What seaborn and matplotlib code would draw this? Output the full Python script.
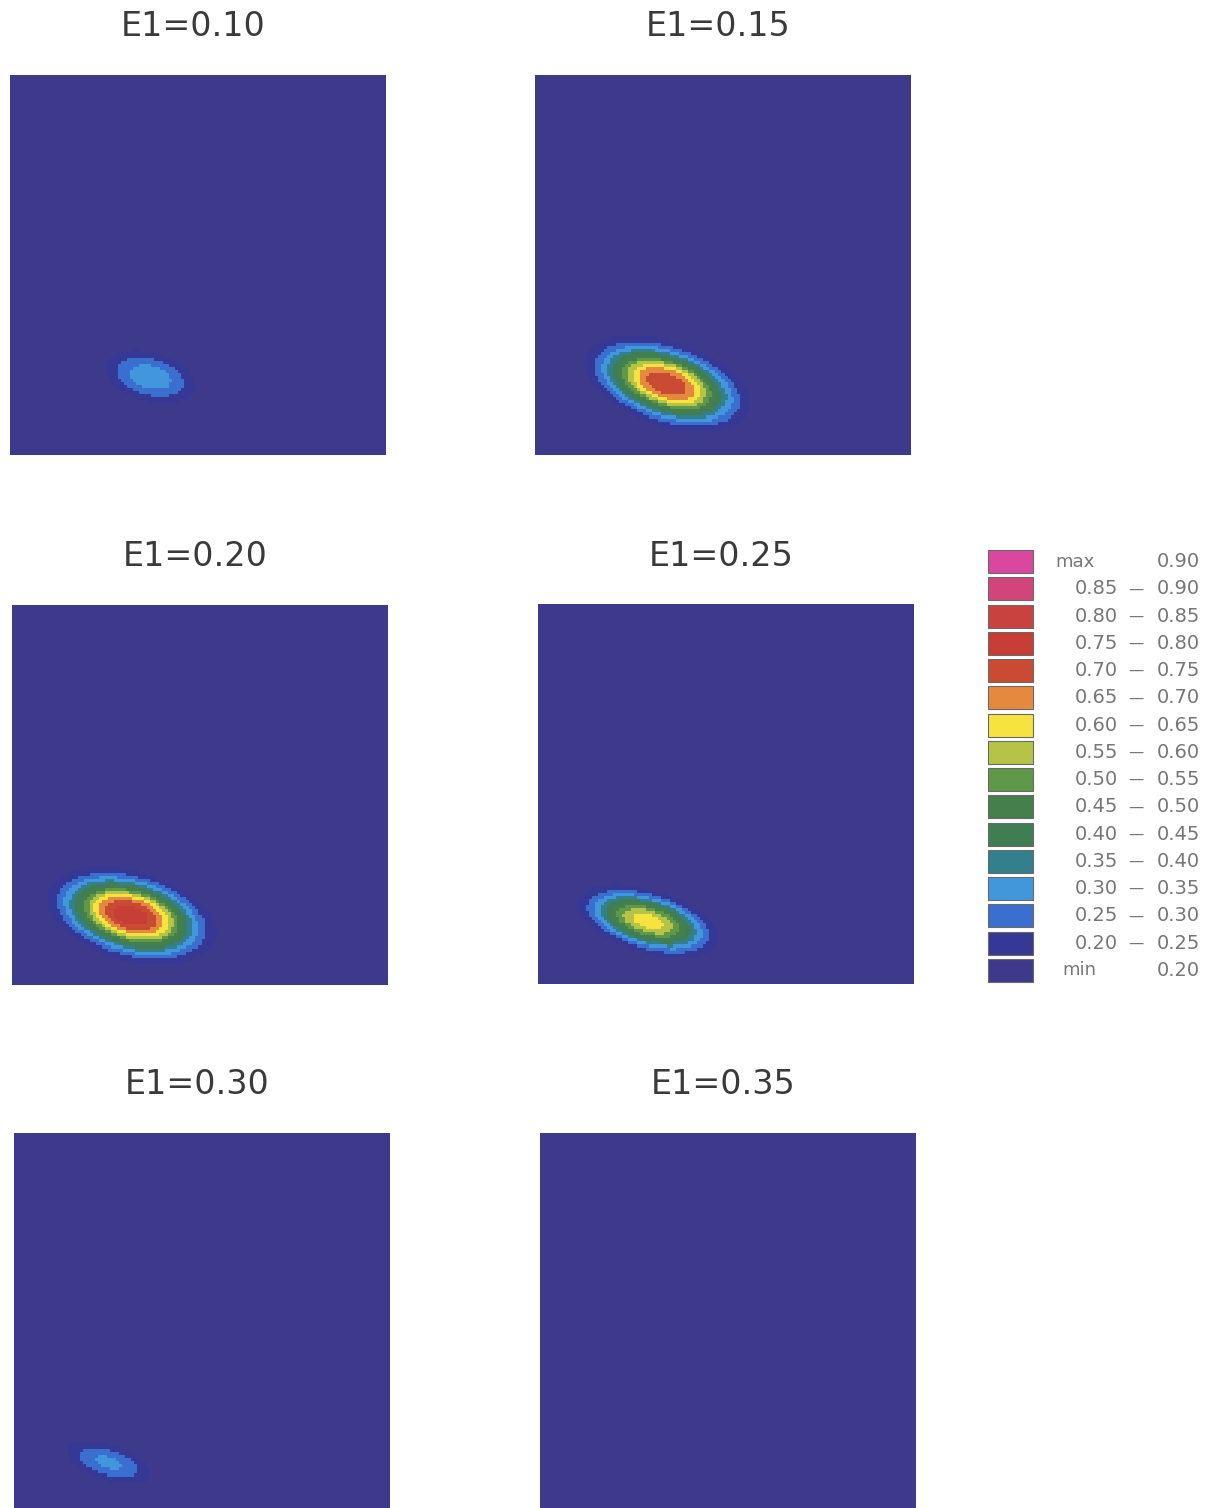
import numpy as np
import matplotlib
matplotlib.use("Agg")
import matplotlib.pyplot as plt
from matplotlib.colors import ListedColormap, BoundaryNorm
import seaborn as sns

# panel titles and blob parameters (panel fraction units)
titles = ["E1=0.10", "E1=0.15", "E1=0.20", "E1=0.25", "E1=0.30", "E1=0.35"]
peak_val = [0.33, 0.74, 0.78, 0.62, 0.31, 0.18]
center_x = [0.373, 0.350, 0.316, 0.292, 0.250, 0.500]
center_y = [0.203, 0.185, 0.180, 0.162, 0.129, 0.500]
spread_major = [0.112, 0.160, 0.160, 0.142, 0.110, 0.100]
spread_minor = [0.060, 0.078, 0.082, 0.060, 0.044, 0.100]
tilt_deg = [-15, -18, -15, -16, -17, 0]
base_val = 0.15
shape_k = 2.5

# contour levels and legend
bounds = [0.0, 0.20, 0.25, 0.30, 0.35, 0.40, 0.45, 0.50, 0.55, 0.60,
          0.65, 0.70, 0.75, 0.80, 0.85, 0.90, 1.0]
level_colors = ["#3d3a8c", "#363896", "#3a6fcf", "#4196dc", "#337f8e",
                "#3f7d52", "#447f4c", "#5e9848", "#b5c447", "#f6e33f",
                "#e5893f", "#c94b33", "#c73e36", "#c9423f", "#d2457a", "#d9489e"]
legend_lo = ["min", "0.20", "0.25", "0.30", "0.35", "0.40", "0.45", "0.50",
             "0.55", "0.60", "0.65", "0.70", "0.75", "0.80", "0.85", "max"]
legend_hi = ["0.20", "0.25", "0.30", "0.35", "0.40", "0.45", "0.50", "0.55",
             "0.60", "0.65", "0.70", "0.75", "0.80", "0.85", "0.90", "0.90"]

cmap = ListedColormap(level_colors)
norm = BoundaryNorm(bounds, cmap.N)

W, H = 1211, 1508
fig = plt.figure(figsize=(W / 100, H / 100), dpi=100)

# panel corners in pixels (left, top)
panel_px = [(10, 75), (535, 75), (12, 605), (538, 604), (14, 1133), (540, 1133)]
pw, ph = 376, 380
n = 125
xs = np.linspace(0, 1, n)
ys = np.linspace(1, 0, n)
X, Y = np.meshgrid(xs, ys)

for i, (px, py) in enumerate(panel_px):
    ax = fig.add_axes([px / W, 1 - (py + ph) / H, pw / W, ph / H])
    th = np.deg2rad(tilt_deg[i])
    dx = X - center_x[i]
    dy = Y - center_y[i]
    u = (dx * np.cos(th) + dy * np.sin(th)) / spread_major[i]
    w = (-dx * np.sin(th) + dy * np.cos(th)) / spread_minor[i]
    r = np.sqrt(u ** 2 + w ** 2)
    field = base_val + (peak_val[i] - base_val) * np.exp(-r ** shape_k)
    sns.heatmap(field, ax=ax, cmap=cmap, norm=norm, cbar=False,
                xticklabels=False, yticklabels=False, rasterized=True)
    ax.set_xticks([])
    ax.set_yticks([])
    ax.text(0.5 - 5 / pw, 1 + 48 / ph, titles[i], transform=ax.transAxes,
            ha="center", va="center", fontsize=24, color="#3a3a3a")

# legend column
lx, ly, lw, lh = 985, 548, 222, 436
lax = fig.add_axes([lx / W, 1 - (ly + lh) / H, lw / W, lh / H])
rows = np.arange(16)
lax.barh(rows, [45] * 16, left=3, height=0.84, color=level_colors[::-1],
         edgecolor="#6a6a6a", linewidth=0.8)
lax.set_xlim(0, lw)
lax.set_ylim(15.5, -0.5)
lax.axis("off")
lo = legend_lo[::-1]
hi = legend_hi[::-1]
for j in rows:
    if lo[j] in ("max", "min"):
        xpos = 70 if lo[j] == "max" else 77
        lax.text(xpos, j, lo[j], ha="left", va="center", fontsize=13, color="#777777")
    else:
        lax.text(111, j, lo[j], ha="center", va="center", fontsize=14, color="#777777")
        lax.text(151, j, "\u2014", ha="center", va="center", fontsize=11, color="#777777")
    lax.text(215, j, hi[j], ha="right", va="center", fontsize=14, color="#777777")

fig.savefig("out.png", dpi=100)
